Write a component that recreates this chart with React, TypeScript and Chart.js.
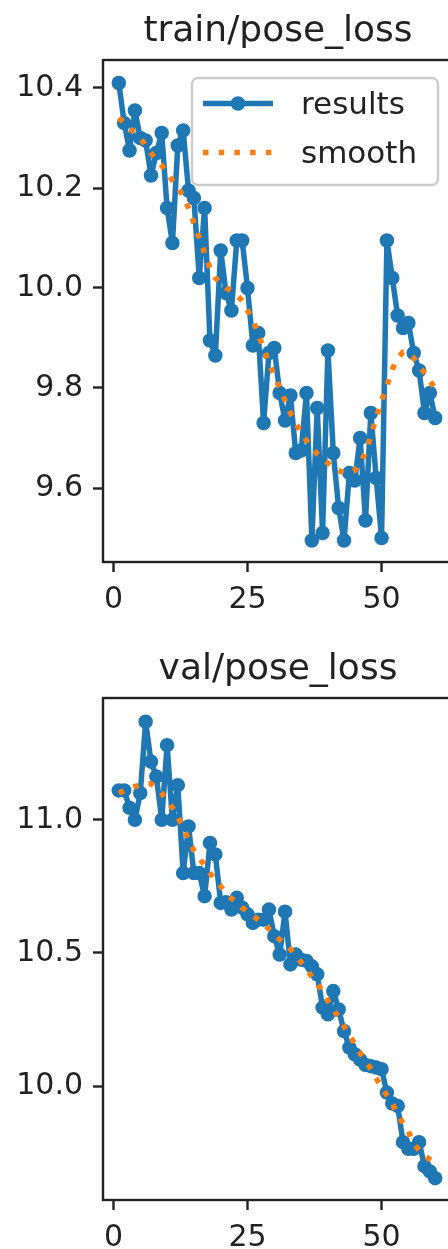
import React, { useEffect, useRef } from 'react';
import { Chart, registerables } from 'chart.js';

Chart.register(...registerables);

// ---------------- data ----------------
const epochs = [
  1, 2, 3, 4, 5, 6, 7, 8, 9, 10,
  11, 12, 13, 14, 15, 16, 17, 18, 19, 20,
  21, 22, 23, 24, 25, 26, 27, 28, 29, 30,
  31, 32, 33, 34, 35, 36, 37, 38, 39, 40,
  41, 42, 43, 44, 45, 46, 47, 48, 49, 50,
  51, 52, 53, 54, 55, 56, 57, 58, 59, 60,
];

const trainPoseLoss = [
  10.41, 10.33, 10.275, 10.355, 10.3, 10.295, 10.225, 10.27, 10.31, 10.16,
  10.09, 10.285, 10.315, 10.195, 10.18, 10.02, 10.16, 9.895, 9.865, 10.075,
  9.99, 9.955, 10.095, 10.095, 10.0, 9.885, 9.91, 9.73, 9.87, 9.88,
  9.79, 9.735, 9.785, 9.67, 9.675, 9.79, 9.495, 9.76, 9.51, 9.875,
  9.67, 9.56, 9.495, 9.63, 9.615, 9.7, 9.535, 9.75, 9.62, 9.5,
  10.095, 10.02, 9.945, 9.92, 9.93, 9.87, 9.835, 9.75, 9.79, 9.74,
];

const trainPoseSmooth = [
  10.34, 10.33, 10.32, 10.31, 10.3, 10.285, 10.27, 10.255, 10.245, 10.23,
  10.215, 10.2, 10.185, 10.16, 10.13, 10.1, 10.07, 10.04, 10.02, 10.01,
  10.0, 9.995, 9.985, 9.975, 9.955, 9.935, 9.909, 9.878, 9.85, 9.825,
  9.8, 9.775, 9.75, 9.73, 9.71, 9.695, 9.68, 9.668, 9.658, 9.65,
  9.64, 9.635, 9.63, 9.63, 9.635, 9.65, 9.67, 9.705, 9.74, 9.775,
  9.805, 9.837, 9.86, 9.872, 9.87, 9.86, 9.845, 9.83, 9.813, 9.8,
];

const valPoseLoss = [
  11.11, 11.11, 11.045, 11.0, 11.1, 11.368, 11.218, 11.162, 11.0, 11.28,
  11.0, 11.13, 10.8, 10.975, 10.8, 10.8, 10.713, 10.913, 10.87, 10.688,
  10.69, 10.663, 10.707, 10.67, 10.645, 10.613, 10.625, 10.625, 10.663, 10.563,
  10.494, 10.655, 10.457, 10.494, 10.475, 10.47, 10.45, 10.42, 10.295, 10.27,
  10.357, 10.288, 10.207, 10.145, 10.12, 10.1, 10.08, 10.075, 10.07, 10.064,
  9.976, 9.935, 9.926, 9.79, 9.765, 9.765, 9.79, 9.7, 9.68, 9.655,
];

const valPoseSmooth = [
  11.1, 11.11, 11.12, 11.125, 11.13, 11.135, 11.135, 11.12, 11.1, 11.07,
  11.045, 11.01, 10.97, 10.925, 10.885, 10.855, 10.83, 10.8, 10.775, 10.75,
  10.725, 10.705, 10.69, 10.67, 10.655, 10.64, 10.625, 10.61, 10.59, 10.57,
  10.55, 10.535, 10.515, 10.49, 10.465, 10.44, 10.41, 10.385, 10.355, 10.32,
  10.285, 10.26, 10.225, 10.19, 10.16, 10.125, 10.095, 10.065, 10.03, 9.995,
  9.965, 9.935, 9.895, 9.86, 9.83, 9.785, 9.76, 9.74, 9.725, 9.714,
];

const seriesLabels = ['results', 'smooth'];
const xTicks = [0, 25, 50];
const xRange = [-1.95, 62.95];
const trainYTicks = [9.6, 9.8, 10.0, 10.2, 10.4];
const trainYRange = [9.452, 10.456];
const valYTicks = [10.0, 10.5, 11.0];
const valYRange = [9.573, 11.457];

// ---------------- style ----------------
const FONT = "'DejaVu Sans', 'Liberation Sans', sans-serif";
const TEXT = '#222222';
const BLUE = '#1f77b4';
const ORANGE = '#ff7f0e';
const CANVAS_W = 556;
const CANVAS_H = 612;
const SPINE_W = 2.4;

const framePlugin = {
  id: 'mplFrame',
  afterDatasetsDraw(chart: any) {
    const { ctx, chartArea } = chart;
    ctx.save();
    ctx.strokeStyle = TEXT;
    ctx.lineWidth = SPINE_W;
    ctx.strokeRect(chartArea.left, chartArea.top, chartArea.right - chartArea.left, chartArea.bottom - chartArea.top);
    ctx.restore();
  },
};

const legendPlugin = {
  id: 'mplLegend',
  afterDraw(chart: any, _args: any, opts: any) {
    if (!opts || !opts.show) return;
    const { ctx, chartArea } = chart;
    const w = 246;
    const h = 107;
    const x0 = chartArea.right - 13 - w;
    const y0 = chartArea.top + 18;
    ctx.save();
    ctx.beginPath();
    (ctx as any).roundRect(x0, y0, w, h, 6);
    ctx.fillStyle = 'rgba(255,255,255,0.8)';
    ctx.fill();
    ctx.strokeStyle = '#cccccc';
    ctx.lineWidth = 2.4;
    ctx.stroke();
    const rows = [25.5, 74.5];
    chart.data.datasets.forEach((ds: any, i: number) => {
      const y = y0 + rows[i];
      const xa = x0 + 11;
      const xb = x0 + 81;
      ctx.beginPath();
      ctx.setLineDash(ds.borderDash || []);
      ctx.lineCap = 'butt';
      ctx.strokeStyle = ds.borderColor;
      ctx.lineWidth = ds.borderWidth;
      ctx.moveTo(xa, y);
      ctx.lineTo(xb, y);
      ctx.stroke();
      ctx.setLineDash([]);
      if (ds.pointRadius > 0) {
        ctx.beginPath();
        ctx.arc((xa + xb) / 2, y, ds.pointRadius, 0, Math.PI * 2);
        ctx.fillStyle = ds.pointBackgroundColor;
        ctx.fill();
        ctx.lineWidth = ds.pointBorderWidth;
        ctx.strokeStyle = ds.pointBorderColor;
        ctx.stroke();
      }
      ctx.fillStyle = TEXT;
      ctx.font = `31px ${FONT}`;
      ctx.textAlign = 'left';
      ctx.textBaseline = 'alphabetic';
      ctx.fillText(ds.label, x0 + 109, y + 10.5);
    });
    ctx.restore();
  },
};

type PanelProps = {
  title: string;
  values: number[];
  smooth: number[];
  yTicks: number[];
  yRange: number[];
  showLegend: boolean;
  top: number;
};

function Panel({ title, values, smooth, yTicks, yRange, showLegend, top }: PanelProps) {
  const ref = useRef<HTMLCanvasElement | null>(null);

  useEffect(() => {
    if (!ref.current) return;
    const chart = new Chart(ref.current, {
      type: 'line',
      data: {
        datasets: [
          {
            label: seriesLabels[0],
            data: epochs.map((e, i) => ({ x: e, y: values[i] })),
            borderColor: BLUE,
            backgroundColor: BLUE,
            borderWidth: 5.5,
            borderJoinStyle: 'round',
            borderCapStyle: 'round',
            pointRadius: 6.5,
            pointBorderWidth: 1.5,
            pointBackgroundColor: BLUE,
            pointBorderColor: BLUE,
            tension: 0,
            order: 1,
          },
          {
            label: seriesLabels[1],
            data: epochs.map((e, i) => ({ x: e, y: smooth[i] })),
            borderColor: ORANGE,
            backgroundColor: ORANGE,
            borderWidth: 5.5,
            borderDash: [5.5, 10.2],
            borderCapStyle: 'butt',
            borderJoinStyle: 'round',
            pointRadius: 0,
            tension: 0,
            order: 0,
          },
        ],
      } as any,
      options: {
        animation: false,
        responsive: false,
        devicePixelRatio: 1,
        layout: { padding: 0 },
        plugins: {
          legend: { display: false },
          tooltip: { enabled: false },
          title: {
            display: true,
            text: title,
            color: TEXT,
            font: { family: FONT, size: 36, weight: 'normal' },
            padding: { top: 10, bottom: 6.8 },
          },
          mplLegend: { show: showLegend },
        } as any,
        scales: {
          x: {
            type: 'linear',
            min: xRange[0],
            max: xRange[1],
            afterBuildTicks: (s: any) => {
              s.ticks = xTicks.map((v) => ({ value: v }));
            },
            afterFit: (s: any) => {
              s.height = 50;
            },
            grid: {
              drawOnChartArea: false,
              drawTicks: true,
              tickLength: 10,
              tickWidth: SPINE_W,
              tickColor: TEXT,
            },
            border: { display: false },
            ticks: {
              autoSkip: false,
              maxRotation: 0,
              padding: 10,
              color: TEXT,
              font: { family: FONT, size: 30 },
              callback: (v: any) => String(v),
            },
          },
          y: {
            type: 'linear',
            position: 'left',
            min: yRange[0],
            max: yRange[1],
            afterBuildTicks: (s: any) => {
              s.ticks = yTicks.map((v) => ({ value: v }));
            },
            afterFit: (s: any) => {
              s.width = 103;
            },
            grid: {
              drawOnChartArea: false,
              drawTicks: true,
              tickLength: 10,
              tickWidth: SPINE_W,
              tickColor: TEXT,
            },
            border: { display: false },
            ticks: {
              autoSkip: false,
              padding: 10,
              color: TEXT,
              font: { family: FONT, size: 30 },
              callback: (v: any) => Number(v).toFixed(1),
            },
          },
          yRightSpace: {
            type: 'linear',
            position: 'right',
            min: yRange[0],
            max: yRange[1],
            afterFit: (s: any) => {
              s.width = 105;
            },
            grid: { display: false, drawTicks: false },
            border: { display: false },
            ticks: { display: false },
          },
        },
      } as any,
      plugins: [framePlugin, legendPlugin],
    });
    return () => chart.destroy();
  }, [title, values, smooth, yTicks, yRange, showLegend]);

  return (
    <canvas
      ref={ref}
      width={CANVAS_W}
      height={CANVAS_H}
      style={{ position: 'absolute', left: 0, top, width: CANVAS_W, height: CANVAS_H }}
    />
  );
}

export default function App() {
  return (
    <div
      style={{
        position: 'absolute',
        left: 0,
        top: 0,
        width: 448,
        height: 1249,
        overflow: 'hidden',
        background: '#ffffff',
      }}
    >
      <Panel
        title="train/pose_loss"
        values={trainPoseLoss}
        smooth={trainPoseSmooth}
        yTicks={trainYTicks}
        yRange={trainYRange}
        showLegend={true}
        top={0}
      />
      <Panel
        title="val/pose_loss"
        values={valPoseLoss}
        smooth={valPoseSmooth}
        yTicks={valYTicks}
        yRange={valYRange}
        showLegend={false}
        top={638}
      />
    </div>
  );
}
